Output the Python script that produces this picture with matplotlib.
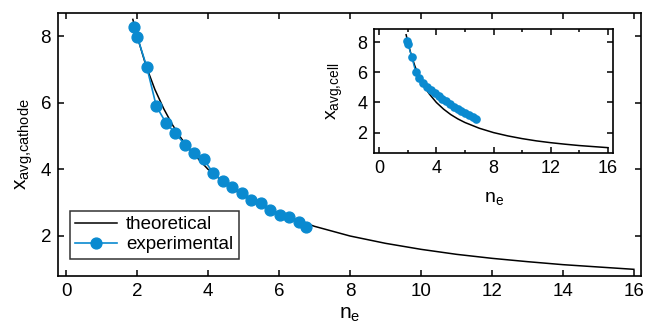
import matplotlib
matplotlib.use("Agg")
from matplotlib import pyplot as plt
from matplotlib.ticker import MultipleLocator

plt.rcParams["font.family"] = ["Liberation Sans", "DejaVu Sans"]

BLUE = "#0A8AD0"

# theoretical curve
theo_n = [1.88, 2.0, 2.25, 2.5, 2.75, 3.0, 3.25, 3.5, 4.0, 4.5, 5.0, 5.5, 6.0,
          7.0, 8.0, 9.0, 10.0, 11.0, 12.0, 13.0, 14.0, 15.0, 16.0]
theo_x = [8.5, 8.0, 7.11, 6.4, 5.82, 5.33, 4.92, 4.57, 4.0, 3.56, 3.2, 2.91, 2.67,
          2.29, 2.0, 1.78, 1.6, 1.45, 1.33, 1.23, 1.14, 1.07, 1.0]

# experimental points
exp_n = [1.92, 2.01, 2.27, 2.54, 2.81, 3.08, 3.35, 3.61, 3.88, 4.15,
         4.41, 4.68, 4.96, 5.22, 5.48, 5.75, 6.02, 6.28, 6.55, 6.77]
exp_cathode = [8.28, 7.96, 7.08, 5.90, 5.40, 5.08, 4.74, 4.48, 4.30, 3.88,
               3.65, 3.47, 3.29, 3.09, 2.99, 2.77, 2.64, 2.57, 2.42, 2.26]
exp_cell = [8.09, 7.87, 7.04, 6.05, 5.60, 5.30, 5.05, 4.83, 4.62, 4.40,
            4.24, 4.07, 3.90, 3.73, 3.58, 3.44, 3.30, 3.17, 3.03, 2.93]


def style_axes(ax, size):
    for s in ax.spines.values():
        s.set_linewidth(1.2)
    ax.tick_params(which="both", direction="in", top=True, right=True,
                   width=1.1, labelsize=size)


fig = plt.figure(figsize=(6.47, 3.26), dpi=100)

ax = fig.add_axes([0.0896, 0.1534, 0.9011, 0.8066])
ax.plot(theo_n, theo_x, color="black", lw=1.1, label="theoretical")
ax.plot(exp_n, exp_cathode, color=BLUE, lw=1.2, marker="o", ms=7.8,
        label="experimental")
ax.set_xlim(-0.23, 16.2)
ax.set_ylim(0.8, 8.69)
ax.xaxis.set_major_locator(MultipleLocator(2))
ax.yaxis.set_major_locator(MultipleLocator(2))
style_axes(ax, 13.5)
ax.tick_params(which="major", length=4, pad=5)
ax.set_xlabel("n$_\\mathregular{e}$", fontsize=15, labelpad=4)
ax.set_ylabel("x$_\\mathregular{avg{,}cathode}$", fontsize=15, labelpad=4)
leg = ax.legend(loc="lower left", bbox_to_anchor=(0.02, 0.065), fontsize=13.5,
                frameon=True, fancybox=False, edgecolor="black",
                handlelength=2.2, handletextpad=0.5, borderpad=0.3,
                labelspacing=0.15, borderaxespad=0)
leg.get_frame().set_linewidth(1.1)

ins = fig.add_axes([0.5785, 0.530, 0.3695, 0.380])
ins.plot(theo_n, theo_x, color="black", lw=1.1)
ins.plot(exp_n, exp_cell, color=BLUE, lw=1.0, marker="o", ms=5.2)
ins.set_xlim(-0.35, 16.39)
ins.set_ylim(0.63, 8.86)
ins.xaxis.set_major_locator(MultipleLocator(4))
ins.xaxis.set_minor_locator(MultipleLocator(2))
ins.yaxis.set_major_locator(MultipleLocator(2))
style_axes(ins, 13)
ins.tick_params(which="major", length=4, pad=5)
ins.tick_params(which="minor", length=2.2)
ins.set_xlabel("n$_\\mathregular{e}$", fontsize=14, labelpad=10)
ins.set_ylabel("x$_\\mathregular{avg{,}cell}$", fontsize=14, labelpad=9)

fig.savefig("out.png", dpi=100)
